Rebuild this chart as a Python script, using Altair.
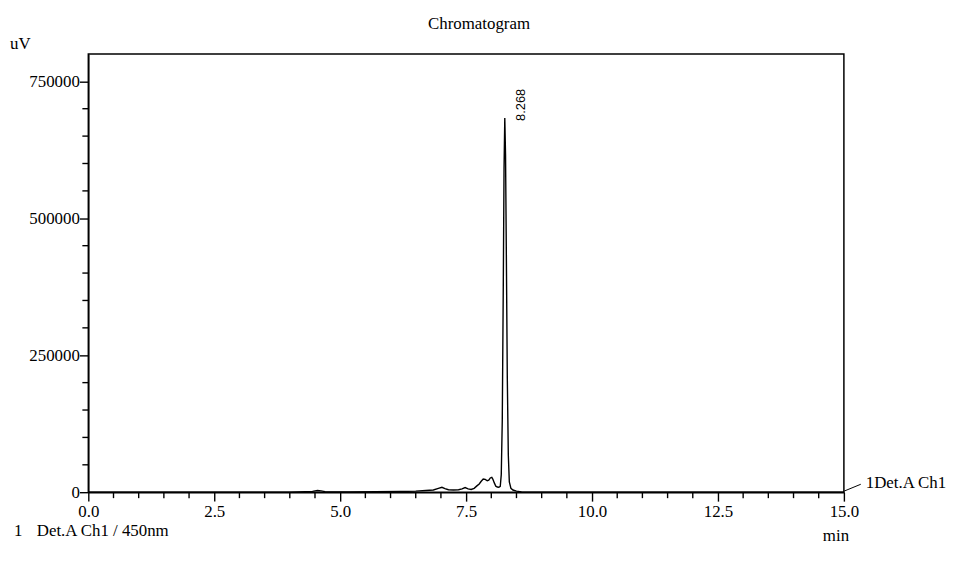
import altair as alt
import pandas as pd

# ---- data ----
time_min = [0.0, 4.0, 4.45, 4.55, 4.62, 4.7, 4.8, 5.2, 5.7, 6.2, 6.5, 6.7, 6.85, 6.95,
            7.02, 7.08, 7.15, 7.25, 7.35, 7.42, 7.48, 7.54, 7.6, 7.66, 7.72, 7.76, 7.8,
            7.84, 7.88, 7.92, 7.95, 7.98, 8.01, 8.03, 8.06, 8.09, 8.12, 8.15, 8.178,
            8.198, 8.218, 8.238, 8.253, 8.268, 8.283, 8.298, 8.318, 8.338, 8.358, 8.39,
            8.43, 8.5, 8.6, 8.8, 9.5, 15.0]
signal_uv = [0, 0, 1500, 3000, 2500, 1000, 500, 600, 800, 1200, 2000, 3000, 4000, 7000,
             9000, 6500, 4500, 4000, 4500, 6000, 8500, 6000, 5000, 7000, 12000, 15000, 20000,
             24000, 23500, 21000, 22000, 26000, 27000, 24000, 17000, 11000, 9500, 9000, 10500,
             32000, 131000, 375000, 590000, 683000, 615000, 445000, 208000, 68000, 19000, 7000,
             4000, 2000, 500, 200, 0, 0]

peak_time = [8.268]
peak_height = [683000]
peak_label = ["8.268"]

x_major = [0.0, 2.5, 5.0, 7.5, 10.0, 12.5, 15.0]
x_minor = [0.5, 1.0, 1.5, 2.0, 3.0, 3.5, 4.0, 4.5, 5.5, 6.0, 6.5, 7.0, 8.0, 8.5, 9.0,
           9.5, 10.5, 11.0, 11.5, 12.0, 13.0, 13.5, 14.0, 14.5]
y_major = [0, 250000, 500000, 750000]
y_minor = [50000, 100000, 150000, 200000, 300000, 350000, 400000, 450000, 550000,
           600000, 650000, 700000]

title_text = "Chromatogram"
y_unit = "uV"
x_unit = "min"
channel_label = "1Det.A Ch1"
legend_num = "1"
legend_text = "Det.A Ch1 / 450nm"

FONT = "Liberation Serif"
W, H = 762, 442

df = pd.DataFrame({"t": time_min, "v": signal_uv})

x_scale = alt.Scale(domain=[0, 15], nice=False, zero=False)
y_scale = alt.Scale(domain=[0, 800000], nice=False)

x_axis = alt.Axis(
    values=x_major, title=None, grid=False, format=".1f", tickSize=9,
    labelFont=FONT, labelFontSize=17, labelColor="black", labelPadding=3,
    labelFlush=False, labelOverlap=False,
    domainColor="black", domainWidth=1.5, tickColor="black", tickWidth=1.4,
)
y_axis = alt.Axis(
    values=y_major, title=None, grid=False, format="d", tickSize=9,
    labelFont=FONT, labelFontSize=17, labelColor="black", labelPadding=0,
    labelFlush=False, labelOverlap=False,
    domainColor="black", domainWidth=1.5, tickColor="black", tickWidth=1.4,
)

trace = alt.Chart(df).mark_line(color="black", strokeWidth=1.4, clip=True).encode(
    x=alt.X("t:Q", scale=x_scale, axis=x_axis),
    y=alt.Y("v:Q", scale=y_scale, axis=y_axis),
)

xminor_df = pd.DataFrame({"t": x_minor})
x_minor_ticks = alt.Chart(xminor_df).mark_rule(color="black", strokeWidth=1.4).encode(
    x=alt.X("t:Q", scale=x_scale, axis=x_axis),
    y=alt.value(H), y2=alt.value(H + 6),
)
yminor_df = pd.DataFrame({"v": y_minor})
y_minor_ticks = alt.Chart(yminor_df).mark_rule(color="black", strokeWidth=1.4).encode(
    y=alt.Y("v:Q", scale=y_scale, axis=y_axis),
    x=alt.value(0), x2=alt.value(-6),
)

pk = pd.DataFrame({"t": peak_time, "v": peak_height, "lab": peak_label})
peak_text = alt.Chart(pk).mark_text(
    angle=270, align="left", baseline="middle", dx=-3, dy=16,
    font="Liberation Sans", fontSize=13, color="black",
).encode(
    x=alt.X("t:Q", scale=x_scale, axis=x_axis),
    y=alt.Y("v:Q", scale=y_scale, axis=y_axis),
    text="lab:N",
)

one = pd.DataFrame({"a": [0]})

def label(txt, x, y, size=17, align="left", baseline="middle", font=FONT):
    return alt.Chart(one).mark_text(
        align=align, baseline=baseline, font=font, fontSize=size, color="black"
    ).encode(x=alt.value(x), y=alt.value(y), text=alt.value(txt))

end_line = alt.Chart(one).mark_rule(color="black", strokeWidth=1).encode(
    x=alt.value(W), y=alt.value(H - 1), x2=alt.value(W + 17), y2=alt.value(H - 8)
)

chart = alt.layer(
    trace,
    x_minor_ticks,
    y_minor_ticks,
    peak_text,
    end_line,
    label(title_text, 394, -30, align="center"),
    label(y_unit, -79, -10),
    label(x_unit, W - 8, H + 44, align="center"),
    label(channel_label, W + 22, H - 9),
    label(legend_num, -75, H + 39),
    label(legend_text, -52, H + 39),
).properties(
    width=W, height=H,
    autosize=alt.AutoSizeParams(type="none"),
    padding={"left": 81, "top": 44, "right": 106, "bottom": 60},
).configure_view(stroke="black", strokeWidth=1.5)

chart.save("out.html", embed_options={"renderer": "svg", "actions": False})
